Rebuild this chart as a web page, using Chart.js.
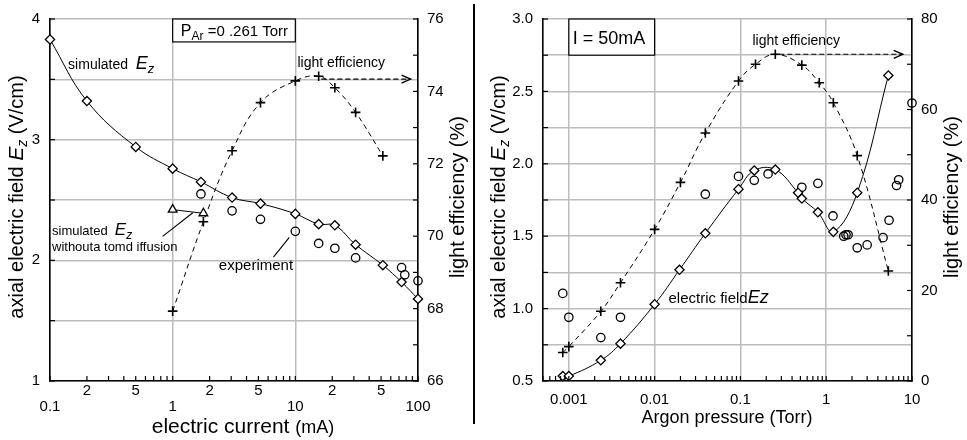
<!DOCTYPE html>
<html><head><meta charset="utf-8">
<script src="https://cdn.jsdelivr.net/npm/chart.js@4.4.1/dist/chart.umd.min.js"></script>
<style>
html,body{margin:0;padding:0;background:#fff;}
#wrap{position:relative;width:967px;height:440px;overflow:hidden;background:#fff;}
#c1{position:absolute;left:0;top:0;}
#c2{position:absolute;left:475px;top:0;}
#sep{position:absolute;left:473px;top:4px;width:2px;height:420px;background:#000;}
</style></head><body>
<div id="wrap">
<canvas id="c1" width="472" height="440"></canvas>
<div id="sep"></div>
<canvas id="c2" width="492" height="440"></canvas>
</div>
<script>
// ---------- DATA: left panel (P_Ar = 0.261 Torr) ----------
const currentSimX   = [0.1, 0.2, 0.5, 1, 1.7, 3.05, 5.2, 10, 15.5, 21, 31, 51.7, 73.5, 100];
const currentSimEz  = [3.83, 3.32, 2.94, 2.76, 2.65, 2.52, 2.47, 2.385, 2.30, 2.29, 2.13, 1.96, 1.82, 1.68];
const currentExpX   = [1.7, 3.05, 5.2, 10, 15.5, 21, 31, 73.5, 78, 100];
const currentExpEz  = [2.55, 2.41, 2.34, 2.24, 2.14, 2.10, 2.02, 1.94, 1.88, 1.83];
const currentNoAmbX = [1, 1.78];
const currentNoAmbEz= [2.42, 2.39];
const currentEffX   = [1, 1.78, 3.05, 5.2, 10, 15.5, 21, 31, 51.7];
const currentEff    = [67.93, 70.4, 72.36, 73.69, 74.29, 74.42, 74.1, 73.42, 72.22];

// ---------- DATA: right panel (I = 50 mA) ----------
const pressSimX  = [0.00085, 0.001, 0.00236, 0.004, 0.01, 0.0195, 0.039, 0.095, 0.145, 0.255, 0.47, 0.52, 0.80, 1.21, 2.3, 5.3];
const pressSimEz = [0.534, 0.534, 0.643, 0.758, 1.03, 1.268, 1.52, 1.825, 1.954, 1.96, 1.80, 1.76, 1.665, 1.53, 1.80, 2.61];
const pressExpX  = [0.00085, 0.001, 0.00236, 0.004, 0.039, 0.095, 0.145, 0.21, 0.52, 0.80, 1.2, 1.6, 1.7, 1.8, 2.3, 3.0, 4.6, 5.4, 6.6, 7.0, 10];
const pressExpEz = [1.105, 0.94, 0.80, 0.94, 1.79, 1.913, 1.886, 1.93, 1.838, 1.865, 1.64, 1.50, 1.51, 1.51, 1.42, 1.44, 1.49, 1.61, 1.85, 1.89, 2.42];
const pressEffX  = [0.00085, 0.001, 0.00236, 0.004, 0.01, 0.02, 0.039, 0.095, 0.15, 0.255, 0.52, 0.83, 1.21, 2.3, 5.3];
const pressEff   = [6.3, 7.6, 15.4, 21.7, 33.5, 43.9, 54.8, 66.3, 70, 72.2, 69.8, 65.9, 61.5, 49.8, 24.3];

// ---------- tick labels ----------
const currentDecadeLabels  = ['0.1', '1', '10', '100'];
const currentMinorLabels   = ['2', '5'];
const pressureDecadeLabels = ['0.001', '0.01', '0.1', '1', '10'];

const FONT = '"Liberation Sans", Arial, Helvetica, sans-serif';
const GRID = '#bcbcbc';
Chart.defaults.font.family = FONT;
Chart.defaults.font.size = 15;
Chart.defaults.color = '#000';

function pts(xs, ys){ return xs.map((x,i)=>({x:x, y:ys[i]})); }
function logTicks(min, max){
  const out=[];
  for(let e=Math.floor(Math.log10(min)); e<=Math.ceil(Math.log10(max)); e++){
    for(let m=1;m<=9;m++){
      const v=+(m*Math.pow(10,e)).toPrecision(6);
      if(v>=min*0.9999 && v<=max*1.0001) out.push(v);
    }
  }
  return out;
}
function decomp(v){ const e=Math.floor(Math.log10(v)+1e-9); return {e:e, m:Math.round(v/Math.pow(10,e))}; }

function fontOf(s){ return (s.i?'italic ':'')+s.s+'px '+FONT; }
function drawRich(ctx, segs, x, y, rot, align){
  ctx.save();
  ctx.translate(x,y);
  if(rot) ctx.rotate(rot);
  let total=0;
  segs.forEach(s=>{ctx.font=fontOf(s); s.w=ctx.measureText(s.t).width; total+=s.w;});
  let cx = align==='center' ? -total/2 : 0;
  ctx.textBaseline='alphabetic'; ctx.textAlign='left'; ctx.fillStyle='#000';
  segs.forEach(s=>{ctx.font=fontOf(s); ctx.fillText(s.t, cx, s.dy||0); cx+=s.w;});
  ctx.restore();
}

const inwardTicks = {
  id:'inwardTicks',
  afterDraw(chart){
    const ctx=chart.ctx, a=chart.chartArea, L=5;
    ctx.save(); ctx.strokeStyle='#000'; ctx.lineWidth=1.2;
    Object.values(chart.scales).forEach(sc=>{
      sc.ticks.forEach(t=>{
        const p=sc.getPixelForValue(t.value);
        ctx.beginPath();
        if(sc.position==='bottom'){ ctx.moveTo(p,a.bottom); ctx.lineTo(p,a.bottom-L); }
        else if(sc.position==='left'){ ctx.moveTo(a.left,p); ctx.lineTo(a.left+L,p); }
        else if(sc.position==='right'){ ctx.moveTo(a.right,p); ctx.lineTo(a.right-L,p); }
        ctx.stroke();
      });
    });
    ctx.restore();
  }
};

function notesPlugin(items){
  return { id:'notes', afterDraw(chart){
    const ctx=chart.ctx, X=chart.scales.x;
    const px=(x)=>X.getPixelForValue(x);
    const py=(y,ax)=>chart.scales[ax||'y'].getPixelForValue(y);
    items.forEach(it=>{
      if(it.kind==='title'){ drawRich(ctx, it.segs, it.px, it.py, it.rot||0, 'center'); }
      else if(it.kind==='text'){ drawRich(ctx, it.segs, px(it.x), py(it.y,it.axis), 0, 'left'); }
      else if(it.kind==='box'){
        const x1=px(it.x1), x2=px(it.x2), y1=py(it.y1), y2=py(it.y2);
        ctx.save(); ctx.fillStyle='#fff'; ctx.fillRect(x1,y1,x2-x1,y2-y1);
        ctx.strokeStyle='#000'; ctx.lineWidth=1.2; ctx.strokeRect(x1,y1,x2-x1,y2-y1); ctx.restore();
      }
      else if(it.kind==='line'){
        const x1=px(it.x1), y1=py(it.y1,it.axis), x2=px(it.x2), y2=py(it.y2,it.axis);
        ctx.save(); ctx.strokeStyle='#000'; ctx.lineWidth=1.1;
        if(it.dash) ctx.setLineDash(it.dash);
        ctx.beginPath(); ctx.moveTo(x1,y1); ctx.lineTo(x2,y2); ctx.stroke();
        if(it.arrow){
          ctx.setLineDash([]); ctx.lineWidth=1.4;
          ctx.beginPath(); ctx.moveTo(x2-9,y2-4); ctx.lineTo(x2,y2); ctx.lineTo(x2-9,y2+4); ctx.stroke();
        }
        ctx.restore();
      }
    });
  }};
}

function yTitleSegs(){ return [{t:'axial electric field ',s:20},{t:'E',s:21,i:1},{t:'z',s:14,i:1,dy:4},{t:' (V/cm)',s:20}]; }

function baseScales(o){
  return {
    x:{ type:'logarithmic', position:'bottom', min:o.xmin, max:o.xmax,
        afterBuildTicks:(sc)=>{ sc.ticks = logTicks(o.xmin,o.xmax).map(v=>({value:v})); },
        afterFit:(sc)=>{ sc.height=59; },
        grid:{ drawTicks:false, lineWidth:1.5,
               color:(c)=>{ const v=c.tick&&c.tick.value; if(!v) return 'rgba(0,0,0,0)'; return decomp(v).m===1 ? GRID : 'rgba(0,0,0,0)'; } },
        border:{ display:true, color:'#000', width:1.6 },
        ticks:{ autoSkip:false, maxRotation:0, minRotation:0, padding:o.xpad, font:{size:15, lineHeight:1.07}, callback:o.xcb } },
    y:{ type:'linear', position:'left', min:o.ymin, max:o.ymax,
        afterFit:(sc)=>{ sc.width=o.yw; },
        grid:{ drawTicks:false, color:GRID, lineWidth:1.5 },
        border:{ display:true, color:'#000', width:1.6 },
        ticks:{ stepSize:o.ystep, padding:10, font:{size:15}, callback:o.ycb } },
    y2:{ type:'linear', position:'right', min:o.y2min, max:o.y2max,
        afterFit:(sc)=>{ sc.width=o.y2w; },
        grid:{ drawOnChartArea:false, drawTicks:false },
        border:{ display:true, color:'#000', width:1.6 },
        ticks:{ stepSize:o.y2step, padding:9, font:{size:15}, callback:o.y2cb } }
  };
}

function diamondDS(xs,ys){ return { data:pts(xs,ys), showLine:true, tension:0.4, borderColor:'#000', borderWidth:1,
  pointStyle:'rectRot', pointRadius:4.6, pointBorderWidth:1.3, pointBorderColor:'#000', pointBackgroundColor:'#fff', clip:false, order:1 }; }
function circleDS(xs,ys){ return { data:pts(xs,ys), showLine:false, pointStyle:'circle', pointRadius:4.2, pointBorderWidth:1.3,
  pointBorderColor:'#000', pointBackgroundColor:'rgba(0,0,0,0)', clip:false, order:2 }; }
function crossDS(xs,ys){ return { data:pts(xs,ys), yAxisID:'y2', showLine:true, tension:0.4, borderColor:'#000', borderWidth:1, borderDash:[5,4],
  pointStyle:'cross', pointRadius:4.8, pointBorderWidth:1.6, pointBorderColor:'#000', clip:false, order:3 }; }

const common = { responsive:false, animation:false, events:[], layout:{padding:{top:13,left:0,right:0,bottom:0}},
  plugins:{ legend:{display:false}, tooltip:{enabled:false} } };

// ---------- left chart ----------
new Chart(document.getElementById('c1'), {
  type:'scatter',
  data:{ datasets:[
    diamondDS(currentSimX, currentSimEz),
    circleDS(currentExpX, currentExpEz),
    { data:pts(currentNoAmbX,currentNoAmbEz), showLine:true, tension:0, borderColor:'#000', borderWidth:1,
      pointStyle:'triangle', pointRadius:5, pointBorderWidth:1.3, pointBorderColor:'#000', pointBackgroundColor:'#fff', clip:false, order:0 },
    crossDS(currentEffX, currentEff)
  ]},
  options:Object.assign({}, common, { scales: baseScales({
    xmin:0.1, xmax:100, xpad:2, ymin:1, ymax:4, ystep:0.5, yw:50, y2min:66, y2max:76, y2step:1, y2w:54,
    xcb:(v)=>{ const d=decomp(v); if(d.m===1) return ['', currentDecadeLabels[d.e+1]]; if(d.m===2) return [currentMinorLabels[0]]; if(d.m===5) return [currentMinorLabels[1]]; return ''; },
    ycb:(v)=> Math.abs(v-Math.round(v))<1e-9 ? String(Math.round(v)) : '',
    y2cb:(v)=> (Math.round(v)%2===0) ? String(Math.round(v)) : ''
  })}),
  plugins:[inwardTicks, notesPlugin([
    {kind:'title', px:23, py:197, rot:-Math.PI/2, segs:yTitleSegs()},
    {kind:'title', px:464, py:197, rot:-Math.PI/2, segs:[{t:'light efficiency (%)',s:20}]},
    {kind:'title', px:243, py:433, segs:[{t:'electric current ',s:21},{t:'(mA)',s:18}]},
    {kind:'box', x1:1, x2:10, y1:4, y2:3.81},
    {kind:'text', x:1.165, y:3.861, segs:[{t:'P',s:16},{t:'Ar',s:12,dy:4},{t:' =0 .261 Torr',s:15}]},
    {kind:'text', x:0.1405, y:3.584, segs:[{t:'simulated  ',s:14},{t:'E',s:18,i:1},{t:'z',s:13,i:1,dy:4}]},
    {kind:'text', x:0.1038, y:2.206, segs:[{t:'simulated  ',s:13},{t:'E',s:17,i:1},{t:'z',s:12,i:1,dy:4}]},
    {kind:'text', x:0.1038, y:2.076, segs:[{t:'withouta tomd iffusion',s:13}]},
    {kind:'line', x1:0.828, y1:2.198, x2:1.46, y2:2.394},
    {kind:'text', x:2.38, y:1.921, segs:[{t:'experiment',s:15}]},
    {kind:'line', x1:6.63, y1:2.027, x2:8.93, y2:2.19},
    {kind:'text', x:10.4, y:3.60, segs:[{t:'light efficiency',s:14}]},
    {kind:'line', axis:'y2', x1:16.3, y1:74.34, x2:87, y2:74.34, dash:[5,3], arrow:true}
  ])]
});

// ---------- right chart ----------
new Chart(document.getElementById('c2'), {
  type:'scatter',
  data:{ datasets:[
    diamondDS(pressSimX, pressSimEz),
    circleDS(pressExpX, pressExpEz),
    crossDS(pressEffX, pressEff)
  ]},
  options:Object.assign({}, common, { scales: baseScales({
    xmin:0.0005, xmax:10, xpad:11, ymin:0.5, ymax:3.0, ystep:0.25, yw:68, y2min:0, y2max:80, y2step:10, y2w:55,
    xcb:(v)=>{ const d=decomp(v); if(d.m===1) return pressureDecadeLabels[d.e+3]; return ''; },
    ycb:(v)=> Math.abs(v*2-Math.round(v*2))<1e-9 ? v.toFixed(1) : '',
    y2cb:(v)=> (Math.round(v)%20===0) ? String(Math.round(v)) : ''
  })}),
  plugins:[inwardTicks, notesPlugin([
    {kind:'title', px:30, py:197, rot:-Math.PI/2, segs:yTitleSegs()},
    {kind:'title', px:483, py:197, rot:-Math.PI/2, segs:[{t:'light efficiency (%)',s:20}]},
    {kind:'title', px:252, py:423, segs:[{t:'Argon pressure (Torr)',s:18}]},
    {kind:'box', x1:0.001, x2:0.01, y1:3.0, y2:2.75},
    {kind:'text', x:0.00111, y:2.83, segs:[{t:'I = 50mA',s:18}]},
    {kind:'text', x:0.138, y:2.823, segs:[{t:'light efficiency',s:14}]},
    {kind:'line', axis:'y2', x1:0.284, y1:72.2, x2:7.8, y2:72.2, dash:[5,3], arrow:true},
    {kind:'text', x:0.01452, y:1.037, segs:[{t:'electric field',s:15},{t:'Ez',s:18,i:1}]}
  ])]
});
</script>
</body></html>
